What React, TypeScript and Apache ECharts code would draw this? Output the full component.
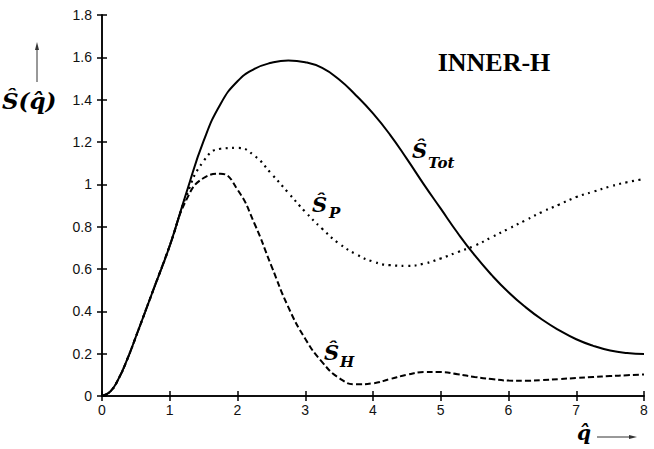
import React, { useEffect, useRef } from "react";
import * as echarts from "echarts";

const q = [0, 0.125, 0.25, 0.375, 0.5, 0.75, 1, 1.25, 1.5, 1.75, 2, 2.25, 2.5, 2.75, 3, 3.25, 3.5, 3.75, 4, 4.25, 4.5, 4.75, 5, 5.25, 5.5, 5.75, 6, 6.25, 6.5, 6.75, 7, 7.25, 7.5, 7.75, 8];
const sTot = [0, 0.022, 0.085, 0.175, 0.28, 0.495, 0.71, 0.965, 1.205, 1.38, 1.487, 1.545, 1.574, 1.585, 1.577, 1.55, 1.495, 1.42, 1.335, 1.235, 1.12, 1.0, 0.885, 0.77, 0.665, 0.572, 0.49, 0.42, 0.36, 0.31, 0.268, 0.237, 0.215, 0.203, 0.198];
const sP = [0, 0.022, 0.085, 0.175, 0.28, 0.495, 0.71, 0.95, 1.11, 1.168, 1.172, 1.135, 1.05, 0.96, 0.87, 0.79, 0.72, 0.67, 0.635, 0.618, 0.615, 0.625, 0.65, 0.68, 0.71, 0.75, 0.79, 0.83, 0.87, 0.905, 0.94, 0.965, 0.99, 1.01, 1.025];
const sH = [0, 0.022, 0.085, 0.175, 0.28, 0.495, 0.71, 0.93, 1.03, 1.05, 0.975, 0.815, 0.615, 0.42, 0.27, 0.16, 0.085, 0.055, 0.06, 0.08, 0.1, 0.113, 0.113, 0.103, 0.09, 0.08, 0.073, 0.072, 0.075, 0.08, 0.085, 0.09, 0.094, 0.098, 0.102];

const MATH = "'DejaVu Serif', 'Liberation Serif', serif";
const TICK = "'Liberation Sans', Arial, sans-serif";

export default function App() {
  const ref = useRef<HTMLDivElement>(null);
  useEffect(() => {
    if (!ref.current) return;
    const chart = echarts.init(ref.current, null, { renderer: "svg" });
    const axisLine = { show: true, lineStyle: { color: "#000", width: 1.5 } };
    const tick = { show: true, inside: true, length: 5, lineStyle: { color: "#000", width: 1.5 } };
    const label = { color: "#111", fontSize: 14, fontFamily: TICK };
    const mk = (arr: number[]) => q.map((x, i) => [x, arr[i]]);
    chart.setOption({
      animation: false,
      backgroundColor: "#fff",
      grid: { left: 102, top: 15, right: 10, bottom: 53, containLabel: false },
      xAxis: [
        { type: "value", min: 0, max: 8, interval: 1, position: "bottom", axisLine, axisTick: tick, axisLabel: { ...label, margin: 7 }, splitLine: { show: false } },
        { type: "value", min: 0, max: 8, interval: 1, position: "top", axisLine, axisTick: tick, axisLabel: { show: false }, splitLine: { show: false } },
      ],
      yAxis: [
        { type: "value", min: 0, max: 1.8, interval: 0.2, position: "left", axisLine, axisTick: tick, axisLabel: { ...label, margin: 10 }, splitLine: { show: false } },
        { type: "value", min: 0, max: 1.8, interval: 0.2, position: "right", axisLine, axisTick: tick, axisLabel: { show: false }, splitLine: { show: false } },
      ],
      series: [
        { name: "S_Tot", type: "line", data: mk(sTot), showSymbol: false, smooth: true, lineStyle: { color: "#000", width: 2 } },
        { name: "S_P", type: "line", data: mk(sP), showSymbol: false, smooth: true, lineStyle: { color: "#000", width: 2.2, type: [2, 4.5] } },
        { name: "S_H", type: "line", data: mk(sH), showSymbol: false, smooth: true, lineStyle: { color: "#000", width: 2, type: [6, 3] } },
      ],
      graphic: [
        { type: "text", x: 494, y: 62, style: { text: "INNER-H", font: "bold 26px 'Liberation Serif', serif", fill: "#000", align: "center", verticalAlign: "middle" } },
        { type: "text", x: 2, y: 100, style: { text: "Ŝ(q̂)", font: `italic bold 23px ${MATH}`, fill: "#000", align: "left", verticalAlign: "middle" } },
        { type: "line", shape: { x1: 37, y1: 82, x2: 37, y2: 48 }, style: { stroke: "#333", lineWidth: 1 } },
        { type: "polygon", shape: { points: [[37, 42], [35, 50], [39, 50]] }, style: { fill: "#333" } },
        { type: "text", x: 584, y: 433, style: { text: "q̂", font: `italic bold 20px ${MATH}`, fill: "#000", align: "center", verticalAlign: "middle" } },
        { type: "line", shape: { x1: 597, y1: 437, x2: 631, y2: 437 }, style: { stroke: "#333", lineWidth: 1 } },
        { type: "polygon", shape: { points: [[637, 437], [629, 435], [629, 439]] }, style: { fill: "#333" } },
        { type: "text", x: 412, y: 140, style: { text: "Ŝ", font: `italic bold 21px ${MATH}`, fill: "#000", align: "left", verticalAlign: "top" } },
        { type: "text", x: 428, y: 155, style: { text: "Tot", font: `italic bold 15px ${MATH}`, fill: "#000", align: "left", verticalAlign: "top" } },
        { type: "text", x: 312, y: 194, style: { text: "Ŝ", font: `italic bold 21px ${MATH}`, fill: "#000", align: "left", verticalAlign: "top" } },
        { type: "text", x: 329, y: 205, style: { text: "P", font: `italic bold 15px ${MATH}`, fill: "#000", align: "left", verticalAlign: "top" } },
        { type: "text", x: 324, y: 342, style: { text: "Ŝ", font: `italic bold 21px ${MATH}`, fill: "#000", align: "left", verticalAlign: "top" } },
        { type: "text", x: 340, y: 354, style: { text: "H", font: `italic bold 15px ${MATH}`, fill: "#000", align: "left", verticalAlign: "top" } },
      ],
    });
    return () => chart.dispose();
  }, []);
  return <div ref={ref} style={{ position: "fixed", left: 0, top: 0, width: 654, height: 449, background: "#fff" }} />;
}
